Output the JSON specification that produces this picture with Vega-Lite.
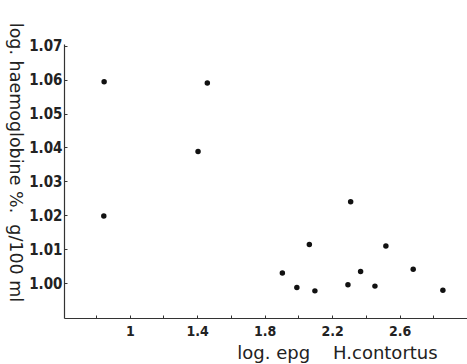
{
  "$schema": "https://vega.github.io/schema/vega-lite/v6.json",
  "autosize": "none",
  "width": 403,
  "height": 274,
  "padding": {"left": 64, "top": 44, "right": 0, "bottom": 46},
  "background": "white",
  "config": {"view": {"stroke": null}},
  "data": {"values": [
    {"epg": 0.848, "hb": 1.0594},
    {"epg": 1.46, "hb": 1.059},
    {"epg": 1.405, "hb": 1.0388},
    {"epg": 0.846, "hb": 1.0198},
    {"epg": 2.31, "hb": 1.024},
    {"epg": 2.065, "hb": 1.0114},
    {"epg": 2.519, "hb": 1.0109},
    {"epg": 1.905, "hb": 1.003},
    {"epg": 2.369, "hb": 1.0034},
    {"epg": 2.681, "hb": 1.0041},
    {"epg": 1.991, "hb": 0.9987},
    {"epg": 2.098, "hb": 0.9977},
    {"epg": 2.294, "hb": 0.9995},
    {"epg": 2.454, "hb": 0.9991},
    {"epg": 2.857, "hb": 0.9979}
  ]},
  "mark": {"type": "circle", "color": "#111111", "opacity": 1, "size": 30},
  "encoding": {
    "x": {
      "field": "epg", "type": "quantitative",
      "scale": {"domain": [0.61, 3.0], "nice": false, "zero": false},
      "axis": {
        "values": [0.8, 1, 1.2, 1.4, 1.6, 1.8, 2.0, 2.2, 2.4, 2.6, 2.8],
        "format": "~g",
        "labelExpr": "indexof([1, 1.4, 1.8, 2.2, 2.6], datum.value) >= 0 ? datum.label : ''",
        "grid": false,
        "domainColor": "#333333",
        "domainWidth": 1.2,
        "tickColor": "#333333",
        "tickSize": -3,
        "labelPadding": 9,
        "labelFont": "DejaVu Sans Condensed",
        "labelFontWeight": "bold",
        "labelFontSize": 14,
        "labelColor": "#222222",
        "title": "log. epg\u00a0\u00a0\u00a0\u00a0H.contortus",
        "titleFont": "DejaVu Sans",
        "titleFontWeight": "normal",
        "titleFontSize": 18,
        "titleColor": "#222222",
        "titleX": 273,
        "titleY": 35,
        "titleAlign": "center",
        "titleBaseline": "middle"
      }
    },
    "y": {
      "field": "hb", "type": "quantitative",
      "scale": {"domain": [0.9897, 1.0705], "nice": false, "zero": false},
      "axis": {
        "values": [1.00, 1.01, 1.02, 1.03, 1.04, 1.05, 1.06, 1.07],
        "format": ".2f",
        "grid": false,
        "domainColor": "#333333",
        "domainWidth": 1.2,
        "tickColor": "#333333",
        "tickSize": -3,
        "labelPadding": 5,
        "labelFont": "DejaVu Sans Condensed",
        "labelFontWeight": "bold",
        "labelFontSize": 15,
        "labelColor": "#222222",
        "title": "log. haemoglobine %.\u00a0\u00a0g/100 ml",
        "titleFont": "DejaVu Sans",
        "titleFontWeight": "normal",
        "titleFontSize": 17.5,
        "titleColor": "#222222",
        "titleAngle": 90,
        "titleX": -50,
        "titleY": 118,
        "titleAlign": "center",
        "titleBaseline": "middle"
      }
    }
  }
}
